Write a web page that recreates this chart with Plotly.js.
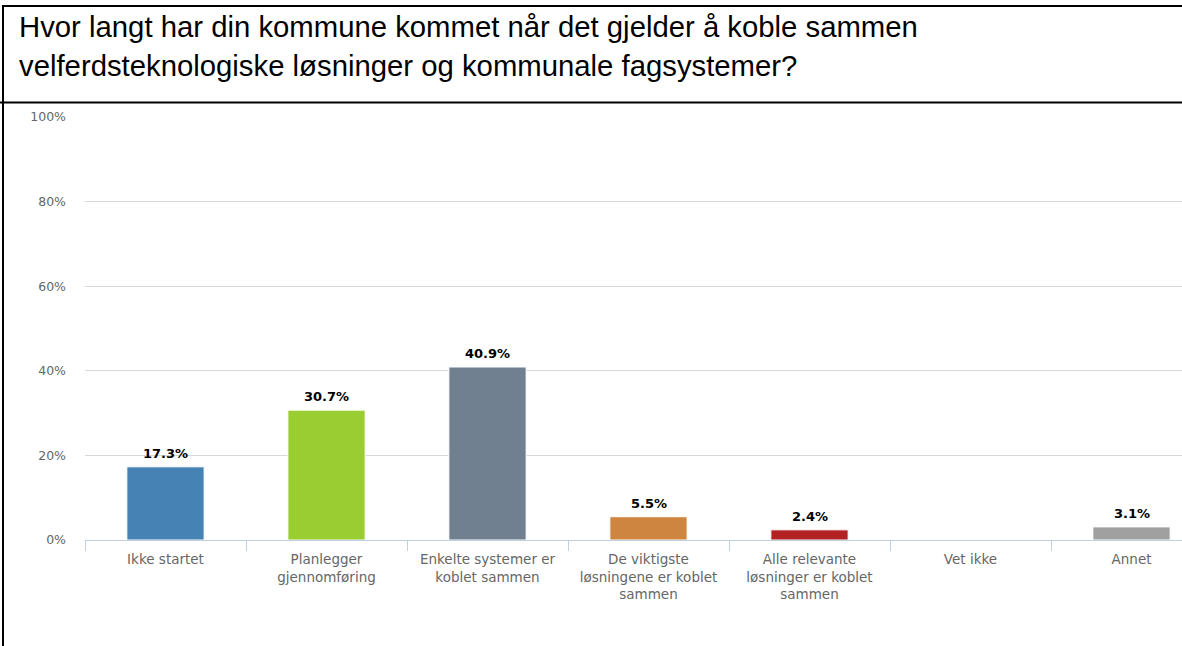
<!DOCTYPE html>
<html>
<head>
<meta charset="utf-8">
<script src="https://cdn.plot.ly/plotly-3.0.1.min.js"></script>
<style>
  html, body { margin: 0; padding: 0; background: #fff; }
  #chart { width: 1182px; height: 646px; }
</style>
</head>
<body>
<div id="chart"></div>
<script>
const categories = [
  "Ikke startet",
  "Planlegger<br>gjennomføring",
  "Enkelte systemer er<br>koblet sammen",
  "De viktigste<br>løsningene er koblet<br>sammen",
  "Alle relevante<br>løsninger er koblet<br>sammen",
  "Vet ikke",
  "Annet"
];
const values = [17.3, 30.7, 40.9, 5.5, 2.4, 0, 3.1];
const barColors = ["#4682B4", "#9ACD32", "#708090", "#CD853F", "#B22222", "#000000", "#A0A0A0"];
const yTickValues = [0, 20, 40, 60, 80, 100];
const titleLines = [
  "Hvor langt har din kommune kommet når det gjelder å koble sammen",
  "velferdsteknologiske løsninger og kommunale fagsystemer?"
];

const W = 1182, H = 646;
const mL = 85, mR = 0, mT = 117, mB = 106;
const plotW = W - mL - mR, plotH = H - mT - mB;
const catWidthPx = 161;
const px2x = px => (px - mL) / plotW;
const py2y = py => (H - mB - py) / plotH;

const trace = {
  type: "bar",
  x: categories,
  y: values,
  width: 0.48,
  marker: { color: barColors, line: { color: "#ffffff", width: 1 } },
  hoverinfo: "none"
};

const annotations = values.map((v, i) => v > 0 ? ({
  x: categories[i], y: v, xref: "x", yref: "y",
  text: "<b>" + v.toFixed(1) + "%</b>",
  showarrow: false, yanchor: "bottom", yshift: 4,
  font: { family: "DejaVu Sans", size: 13, color: "#000000" }
}) : null).filter(a => a);

const titleCenters = [27, 65];
titleLines.forEach((t, i) => {
  annotations.push({
    text: t, xref: "paper", yref: "paper",
    x: px2x(17), xanchor: "left",
    y: py2y(titleCenters[i]), yanchor: "middle",
    showarrow: false,
    font: { family: "Liberation Sans", size: 29.3, color: "#000000" }
  });
});

const lineStyle = { color: "#000000", width: 2 };
const shapes = [
  { type: "line", xref: "paper", yref: "paper", x0: px2x(2), x1: px2x(1182), y0: py2y(6), y1: py2y(6), line: lineStyle },
  { type: "line", xref: "paper", yref: "paper", x0: px2x(3), x1: px2x(3), y0: py2y(5), y1: py2y(646), line: lineStyle },
  { type: "line", xref: "paper", yref: "paper", x0: px2x(0), x1: px2x(1182), y0: py2y(102.5), y1: py2y(102.5), line: lineStyle }
];

const layout = {
  width: W, height: H,
  margin: { l: mL, r: mR, t: mT, b: mB, pad: 0 },
  paper_bgcolor: "#ffffff", plot_bgcolor: "#ffffff",
  showlegend: false,
  xaxis: {
    type: "category",
    range: [-0.5, -0.5 + plotW / catWidthPx],
    tickson: "boundaries",
    ticks: "outside", ticklen: 10, tickcolor: "#C0D0E0", tickwidth: 1,
    showline: true, linecolor: "#C0D0E0", linewidth: 1,
    showgrid: false, zeroline: false,
    ticklabelstandoff: 7,
    tickfont: { family: "DejaVu Sans", size: 13.5, color: "#666666" },
    fixedrange: true
  },
  yaxis: {
    range: [0, 100],
    tickvals: yTickValues,
    ticktext: yTickValues.map(v => v + "%"),
    showgrid: true, gridcolor: "#D8D8D8", gridwidth: 1,
    zeroline: false, showline: false, ticks: "",
    ticklabelstandoff: 18,
    tickfont: { family: "DejaVu Sans", size: 12.5, color: "#666666" },
    fixedrange: true
  },
  annotations: annotations,
  shapes: shapes
};

Plotly.newPlot("chart", [trace], layout, { displayModeBar: false, staticPlot: true });
</script>
</body>
</html>
